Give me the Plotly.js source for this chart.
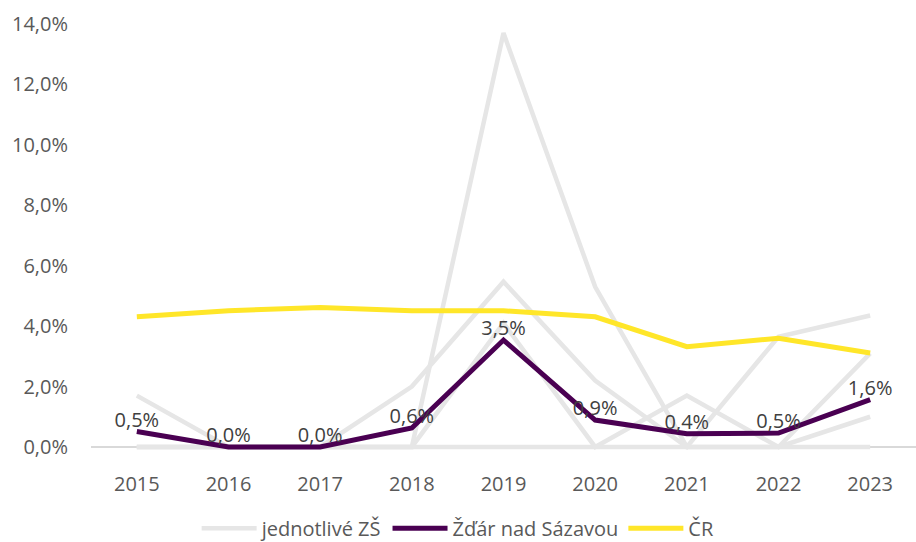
<!DOCTYPE html>
<html>
<head>
<meta charset="utf-8">
<script src="https://cdn.plot.ly/plotly-3.0.1.min.js"></script>
<style>
html,body{margin:0;padding:0;background:#fff;}
#chart{width:916px;height:542px;}
</style>
</head>
<body>
<div id="chart"></div>
<script>
var years = ['2015','2016','2017','2018','2019','2020','2021','2022','2023'];

// individual schools (jednotlivé ZŠ), fractions
var school1 = [0.017, 0, 0, 0, 0.137, 0.053, 0, 0, 0.010];
var school2 = [0, 0, 0, 0.020, 0.0547, 0.022, 0, 0.0365, 0.0435];
var school3 = [0, 0, 0, 0, 0.041, 0, 0.017, 0, 0.031];
var school4 = [0, 0, 0, 0, 0, 0, 0, 0, 0];

// Žďár nad Sázavou
var zdar = [0.0051, 0, 0, 0.0063, 0.0354, 0.0089, 0.0044, 0.0046, 0.0157];
// ČR
var cr = [0.0431, 0.0451, 0.0462, 0.0451, 0.0451, 0.0431, 0.0332, 0.0360, 0.0311];

var yTicks = [0, 0.02, 0.04, 0.06, 0.08, 0.10, 0.12, 0.14];

var schools = [school1, school2, school3, school4];
var GREY = '#e6e6e6', PURPLE = '#4a0052', YELLOW = '#ffe629';
var FONT = '"Open Sans", "Noto Sans", sans-serif';

var data = [];
schools.forEach(function (s, i) {
  data.push({
    x: years, y: s, type: 'scatter', mode: 'lines',
    name: 'jednotlivé ZŠ', legendgroup: 'zs', showlegend: i === 0, legendrank: 1,
    line: {color: GREY, width: 4.5}, hoverinfo: 'skip'
  });
});
data.push({
  x: years, y: cr, type: 'scatter', mode: 'lines', name: 'ČR', legendrank: 3,
  line: {color: YELLOW, width: 5}
});
data.push({
  x: years, y: zdar, type: 'scatter', mode: 'lines+text', name: 'Žďár nad Sázavou', legendrank: 2,
  line: {color: PURPLE, width: 5},
  texttemplate: '%{y:.1%}', textposition: 'top center',
  textfont: {family: FONT, size: 20, color: '#404040'}, cliponaxis: false
});

var layout = {
  width: 916, height: 542,
  margin: {l: 91, r: 0, t: 18, b: 89, autoexpand: false},
  paper_bgcolor: '#ffffff', plot_bgcolor: '#ffffff',
  separators: ', ',
  font: {family: FONT, size: 20, color: '#595959'},
  showlegend: true,
  legend: {
    orientation: 'h', x: 0.445, xanchor: 'center', y: -0.128, yanchor: 'top',
    font: {family: FONT, size: 20, color: '#595959'},
    traceorder: 'normal', itemwidth: 55
  },
  xaxis: {
    type: 'category', range: [-0.5, 8.5],
    showgrid: false, showline: false, zeroline: false,
    ticks: 'outside', ticklen: 13, tickcolor: 'rgba(0,0,0,0)',
    tickfont: {family: FONT, size: 20, color: '#595959'}
  },
  yaxis: {
    range: [-0.002, 0.142],
    tickvals: yTicks, tickformat: '.1%',
    showgrid: false, showline: false,
    zeroline: true, zerolinecolor: '#d9d9d9', zerolinewidth: 1.5,
    ticks: 'outside', ticklen: 18, tickcolor: 'rgba(0,0,0,0)',
    tickfont: {family: FONT, size: 20, color: '#595959'}
  }
};

Plotly.newPlot('chart', data, layout, {displayModeBar: false, staticPlot: true});
</script>
</body>
</html>
